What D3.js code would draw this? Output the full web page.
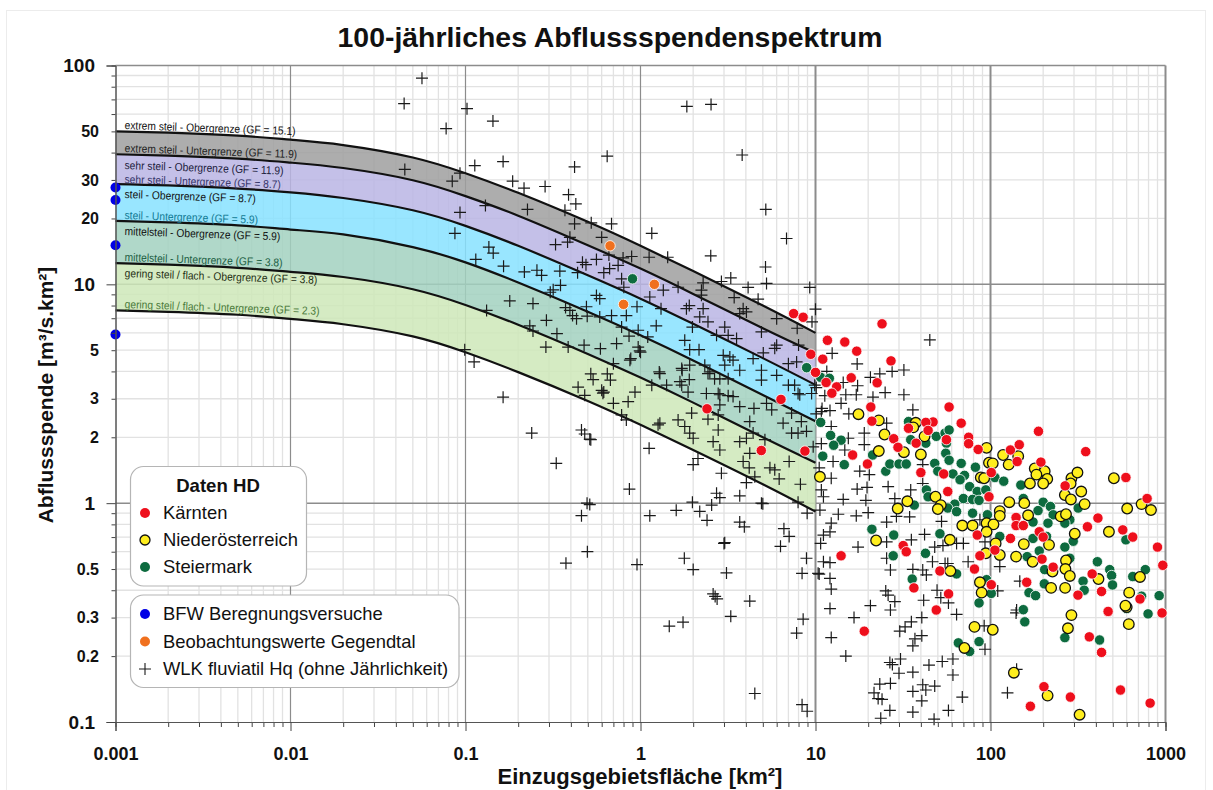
<!DOCTYPE html>
<html>
<head>
<meta charset="utf-8">
<title>100-jährliches Abflussspendenspektrum</title>
<script src="https://cdn.jsdelivr.net/npm/d3@7"></script>
<style>
  html, body {margin: 0; padding: 0; background: #fff;}
  svg {display: block; font-family: "Liberation Sans", Arial, sans-serif;}
</style>
</head>
<body>
<div id="chart"></div>
<script>
// tick labels
const xDecades = [0.001, 0.01, 0.1, 1, 10, 100, 1000];
const yDecades = [0.1, 1, 10, 100];
const yMinorLabels = [0.2, 0.3, 0.5, 2, 3, 5, 20, 30, 50];
const mantissas = [2, 3, 4, 5, 6, 7, 8, 9];

// bands: Einzugsgebietsflaeche [km2] and the six GF curves
const curveArea = [0.001, 0.002, 0.005, 0.01, 0.02, 0.05, 0.1, 0.2, 0.5, 1, 2, 5, 10];
const gf151 = [50, 49.3, 47.8, 45.8, 43.3, 38, 32.2, 26.2, 19.3, 15, 11.5, 8, 6];
const gf119 = [39.3, 38.7, 37.5, 36, 34, 29.9, 25.3, 20.6, 15.1, 11.8, 9.04, 6.3, 4.85];
const gf87 = [28.7, 28.3, 27.4, 26.3, 24.8, 21.8, 18.5, 15, 11, 8.6, 6.6, 4.6, 3.47];
const gf59 = [19.5, 19.2, 18.6, 17.8, 16.9, 14.8, 12.6, 10.2, 7.5, 5.85, 4.49, 3.12, 2.37];
const gf38 = [12.5, 12.3, 11.9, 11.4, 10.8, 9.5, 8.05, 6.54, 4.81, 3.75, 2.88, 2, 1.53];
const gf23 = [7.6, 7.49, 7.26, 6.95, 6.57, 5.78, 4.89, 3.97, 2.93, 2.28, 1.75, 1.22, 0.915];

const bfw = [[0.001, 27.7], [0.001, 24.3], [0.001, 15.1], [0.001, 5.9]];
const gegendtal = [[0.67, 15], [0.8, 8.1], [1.2, 10]];

const kaernten = [[2.4, 2.7], [4.9, 1.74], [8.7, 1.73], [6.35, 2.98], [7.5, 7.35],
  [8.5, 7.07], [9.4, 4.79], [10, 3.96], [24, 6.6], [11.7, 5.55], [14.7, 5.45],
  [17.2, 4.95], [11, 4.55], [27, 4.47], [16, 3.74], [22.5, 3.55], [11.5, 3.56],
  [13.2, 3.4], [12.4, 3.18], [20.7, 2.75], [21, 2.37], [16.3, 1.66], [19.8, 1.51],
  [58, 2.75], [47, 2.35], [42.7, 2.34], [44, 2.15], [34, 2.2], [28, 1.97],
  [29.6, 1.8], [37.6, 1.88], [56, 1.95], [68, 2.32], [75, 2.0], [75, 1.87],
  [85, 1.76], [40, 1.38], [54, 1.36], [57, 1.13], [101, 1.38], [98, 1.07],
  [188, 2.13], [130, 1.75], [146, 1.85], [142, 1.55], [194, 1.54], [350, 1.72],
  [267, 1.2], [594, 1.31], [785, 1.05], [140, 0.86], [411, 0.855], [140, 0.79],
  [154, 0.79], [190, 0.74], [200, 0.7], [358, 0.78], [570, 0.755], [650, 0.7],
  [900, 0.63], [965, 0.52], [84, 0.715], [130, 0.69], [106, 0.61], [87, 0.575],
  [31.7, 0.64], [33, 0.6], [14, 0.575], [51.4, 0.49], [81, 0.5], [197, 0.555],
  [228, 0.51], [36.5, 0.41], [57.6, 0.385], [101, 0.424], [161, 0.435], [49, 0.325],
  [19, 0.26], [381, 0.475], [316, 0.38], [431, 0.395], [470, 0.32], [715, 0.365],
  [955, 0.315], [367, 0.245], [431, 0.208], [202, 0.145], [169, 0.118], [286, 0.13],
  [553, 0.14], [817, 0.122]];

const niederoesterreich = [[17.6, 2.55], [23, 2.39], [24.8, 2.06], [23, 1.73],
  [10.6, 1.32], [37.4, 2.33], [36.2, 2.22], [42, 2.02], [32, 1.71], [40, 1.67],
  [95, 1.79], [118, 1.66], [144, 1.64], [127, 1.5], [98, 1.53], [103, 1.52],
  [88, 1.31], [92, 1.3], [179, 1.44], [204, 1.4], [183, 1.35], [211, 1.29],
  [200, 1.23], [168, 1.23], [290, 1.3], [314, 1.38], [287, 1.23], [266, 1.09],
  [330, 1.13], [288, 1.04], [345, 0.99], [507, 1.3], [604, 0.945], [730, 0.99],
  [826, 0.93], [128, 1.01], [156, 1.0], [164, 0.88], [252, 0.87], [270, 0.89],
  [113, 0.92], [113, 0.875], [48.5, 1.07], [52, 0.98], [50, 0.94], [33.5, 1.02],
  [29.5, 0.945], [58.6, 0.68], [22.2, 0.675], [69, 0.79], [79, 0.79], [95, 0.81],
  [104, 0.8], [95, 0.74], [107, 0.655], [94, 0.59], [113, 0.58], [140, 0.57],
  [174, 0.54], [155, 0.65], [216, 0.645], [303, 0.725], [475, 0.74], [270, 0.547],
  [268, 0.5], [284, 0.465], [226, 0.487], [414, 0.45], [222, 0.41], [267, 0.41],
  [715, 0.46], [620, 0.39], [600, 0.335], [590, 0.34], [617, 0.28], [290, 0.308],
  [277, 0.268], [59, 0.49], [87, 0.435], [89, 0.39], [81, 0.272], [103, 0.264],
  [71, 0.218], [136, 0.168], [212, 0.132], [323, 0.108]];

const steiermark = [[0.9, 10.6], [8.9, 4.16], [10.7, 3.76], [12, 3.72], [10.7, 2.34],
  [12.2, 2.04], [14, 1.94], [12.7, 1.84], [11, 1.64], [14.6, 1.5], [21.2, 1.66],
  [25.2, 1.4], [26.6, 1.51], [30, 1.51], [33, 1.51], [34, 2.36], [35, 1.95],
  [42.7, 1.88], [49, 2.02], [55, 2.09], [58, 2.16], [56, 1.88], [55.5, 1.69],
  [58, 1.57], [48, 1.52], [50, 1.4], [68, 1.52], [82, 1.46], [71, 1.34], [61, 1.36],
  [67, 1.28], [76, 1.19], [84, 1.13], [94, 1.15], [106, 1.31], [119, 1.26],
  [149, 1.21], [43, 1.15], [44, 1.07], [36.7, 0.98], [70, 1.05], [79, 1.04],
  [86, 1.03], [62.5, 0.99], [57, 0.95], [64, 0.915], [79, 0.9], [96, 0.885],
  [154, 1.05], [200, 1.01], [220, 0.965], [187, 0.925], [228, 0.885], [317, 0.95],
  [284, 0.84], [175, 0.82], [213, 0.81], [266, 0.81], [21, 0.76], [28, 0.715],
  [27.8, 0.575], [51.4, 0.725], [42.5, 0.59], [35.7, 0.45], [64, 0.475], [95, 0.447],
  [101, 0.387], [86, 0.35], [65.5, 0.23], [76, 0.21], [86, 0.233], [113, 0.705],
  [175, 0.69], [209, 0.705], [297, 0.67], [266, 0.63], [190, 0.605], [162, 0.57],
  [204, 0.497], [284, 0.56], [203, 0.428], [166, 0.39], [181, 0.378], [338, 0.44],
  [343, 0.4], [408, 0.54], [480, 0.497], [492, 0.467], [498, 0.423], [594, 0.68],
  [650, 0.462], [767, 0.497], [730, 0.376], [920, 0.378], [795, 0.312], [154, 0.326],
  [157, 0.287], [266, 0.243], [420, 0.237], [600, 0.33]];

const wlk = [[0.0564, 87.5], [0.0446, 67], [0.0775, 51.5], [0.102, 63.5], [0.1435, 55.7],
  [0.113, 34.9], [0.164, 36.4], [0.045, 33.5], [0.093, 32.2], [0.084, 29.6],
  [0.186, 29.6], [0.216, 27.5], [0.285, 28], [0.388, 25.7], [0.42, 34.4], [0.645, 38.5],
  [0.427, 23.3], [0.093, 21.3], [0.13, 22.9], [0.226, 22], [0.37, 21.8], [0.42, 18.9],
  [0.523, 19.1], [0.683, 18.9], [1.16, 17.1], [0.395, 16.4], [0.6, 16.4], [0.327, 15.2],
  [0.383, 15.6], [0.087, 17.1], [0.136, 14.8], [0.144, 13.9], [0.1145, 13], [0.165, 12.1],
  [0.217, 11.4], [0.256, 11.6], [0.272, 11], [0.346, 11.5], [0.437, 11.3], [0.466, 12.6],
  [0.488, 12.3], [0.56, 13], [0.617, 11.3], [0.666, 11.8], [0.66, 13.6], [0.745, 12.2],
  [0.78, 10.6], [0.803, 9.7], [0.795, 13.2], [0.89, 13.4], [1.12, 13.3], [1.43, 13.3],
  [2.52, 13.5], [1.84, 65], [2.53, 66.4], [3.81, 39], [5.2, 22], [6.83, 16.2], [5.18, 12],
  [5.25, 10.1], [3.28, 10.7], [2.9, 10.3], [2.28, 10.15], [1.64, 9.7], [1.35, 9.4],
  [4.12, 9.68], [9.27, 9.68], [2.23, 9.4], [2.23, 8.92], [3.43, 8.7], [4.7, 8.55],
  [3.86, 7.74], [4.03, 7.48], [3.69, 7.35], [6, 6.97], [9.55, 6.74],
  [7.86, 6.3], [0.317, 9.44], [0.349, 9.9], [0.305, 9.2], [0.179, 8.4], [0.243, 8.17],
  [0.132, 7.6], [0.373, 7.83], [0.395, 7.6], [0.409, 7.2], [0.431, 6.97], [0.491, 7.9],
  [0.56, 8.9], [0.585, 8.6], [0.496, 7.15], [0.585, 7.1], [0.683, 7.2], [0.83, 7.2],
  [0.955, 7.9], [1.31, 7.74], [1.13, 8.75], [1.83, 7.74], [1.9, 8.0], [2.18, 7.1],
  [2.43, 6.74], [2.28, 7.74], [1.23, 6.46], [0.97, 6.17], [0.78, 6.38], [0.86, 5.8],
  [1.1, 5.75], [0.97, 5.17], [0.99, 4.96], [1.98, 6.38], [3.03, 6.38], [2.72, 5.85],
  [3.17, 5.85], [3.54, 5.65], [1.79, 5.55], [4.91, 6.06], [6, 5.27], [5.85, 5.1],
  [5.03, 4.86], [7, 4.34], [7.8, 4.42], [3.24, 4.66], [2.97, 4.74], [4.4, 4.58],
  [1.91, 5.03], [2.16, 5.03], [3.38, 4.5], [3.69, 4.05], [3.03, 4.27], [4.91, 4.05],
  [4.91, 3.65], [6, 3.84], [2.33, 4.27], [2.49, 3.98], [1.72, 4.13], [1.29, 3.91],
  [1.68, 3.59], [1.91, 4.27], [1.9, 3.67], [1.16, 3.46], [0.88, 4.58], [0.7, 4.34],
  [0.73, 5.36], [0.59, 5.08], [0.476, 5.27], [0.386, 5.17], [0.288, 5.17], [0.333, 5.95],
  [0.29, 6.85], [0.233, 6.46], [0.243, 6.12], [0.099, 5.03], [0.112, 4.42], [0.52, 3.9],
  [0.646, 3.9], [0.673, 3.65], [0.536, 3.67], [0.44, 3.39], [0.6, 3.28], [0.48, 3.11],
  [0.93, 3.22], [0.164, 3.05], [1.41, 3.46], [1.72, 3.46], [2.38, 3.17], [2.78, 3.17],
  [3.17, 3.1], [7.6, 3.46], [7, 3.46], [7.95, 3.17], [0.239, 2.09], [0.33, 1.52],
  [0.46, 2.16], [0.48, 2.07], [0.513, 1.96], [0.52, 1.95], [0.864, 1.16], [0.495, 1],
  [0.513, 0.985], [0.46, 0.877], [0.497, 0.6], [0.375, 0.532], [0.955, 0.524],
  [1.13, 0.877], [1.12, 1.78], [0.83, 2.4], [0.7, 2.86], [0.78, 2.53], [0.85, 2.91],
  [1.29, 2.32], [1.26, 2.28], [1.64, 2.4], [1.79, 2.24], [1.91, 2.09], [2, 1.98],
  [1.96, 2.58], [2.43, 2.42], [2.78, 2.53], [2.84, 2.81], [2.78, 2.16], [2.6, 1.91],
  [2.84, 1.75], [2, 1.5], [2.13, 1.6], [2.9, 1.37], [3.69, 1.91], [4.03, 1.98],
  [4.4, 2.09], [4.21, 1.69], [3.86, 1.55], [4.18, 1.45], [4.5, 1.32], [4.03, 1.24],
  [5.49, 1.45], [5.85, 1.42], [6.2, 1.29], [7.07, 1.55], [8.2, 1.22], [3.69, 1.08],
  [2.72, 1.11], [2.84, 1.06], [2.55, 0.98], [1.98, 1.01], [2.18, 0.917], [1.6, 0.927],
  [2.4, 0.835], [3.69, 0.82], [3.92, 0.78], [4.91, 1], [5, 0.995], [7.95, 1.01],
  [8.96, 0.9], [6.6, 0.765], [7.07, 0.705], [6.31, 0.635], [3.03, 0.66], [3, 0.655],
  [1.78, 0.56], [2, 0.497], [3.1, 0.48], [8.88, 0.56], [8.38, 0.478], [10.35, 0.478],
  [4.21, 0.357], [2.6, 0.385], [2.74, 0.365], [2.67, 0.375], [3.28, 0.304], [1.75, 0.286],
  [1.46, 0.274], [8.5, 0.295], [7.8, 0.255], [4.5, 0.135], [8.38, 0.12], [8.96, 0.112],
  [0.61, 3.18], [2.84, 3.13], [3.38, 3.07], [3.69, 2.76], [4.45, 2.71], [4.21, 2.36],
  [5.25, 2.86], [5.62, 2.67], [7.3, 2.58], [6.53, 2.32], [7.3, 2.09], [7.95, 2.09],
  [8.88, 2.13], [8.3, 2.36], [9.7, 1.81], [5.14, 1.95], [8.13, 3.13],
  [0.87, 4.5], [1, 4.9], [1.28, 3.98], [1.73, 4.05], [2.43, 3.91], [2.65, 3.7], [2.84, 3.7],
  [3.17, 3.7], [9.9, 3.46], [9.5, 3.17], [0.617, 3.22], [1.87, 3.22],
  [10, 7.7], [8, 5.28], [12.45, 4.84], [17.3, 4.33], [11.6, 4], [23.3, 3.9],
  [27.4, 4], [32, 4.06], [20.6, 3.76], [14.4, 3.56], [17.4, 3.44], [10.1, 3.37],
  [14.9, 3.13], [17.1, 3.13], [25, 3.2], [32, 3.13], [21.3, 3.05], [11.3, 3.1], [14, 2.86],
  [10.9, 2.71], [12.1, 2.65], [10.1, 2.56], [10.8, 2.62], [15.5, 2.56], [36, 2.67],
  [45, 5.57], [25.5, 2.32], [12.3, 2.24], [19, 2.09], [15.4, 1.98], [19, 1.85], [10.8, 1.87],
  [14.7, 1.75], [12.6, 1.55], [10.5, 1.45], [17.9, 1.4], [20.3, 1.35], [12.3, 1.3],
  [17.3, 1.16], [19.7, 1.18], [26, 1.19], [41, 1.23], [35, 1.15], [28.4, 1.05], [10.8, 1.15],
  [11.1, 1.07], [14.4, 1.04], [19.4, 1.03], [41, 1.5], [10.6, 0.93], [13.5, 0.89],
  [17.1, 0.875], [20, 0.905], [29, 0.87], [34.5, 0.865], [12.3, 0.81], [25.5, 0.82],
  [52.5, 0.825], [87, 0.84], [12.1, 0.74], [11.1, 0.715], [10.7, 0.655], [17.5, 0.63],
  [11.1, 0.54], [12.1, 0.535], [10.5, 0.474], [12.1, 0.453], [12.3, 0.405], [12.1, 0.33],
  [12.3, 0.243], [14.9, 0.2], [16.6, 0.3], [20.6, 0.34], [25.2, 0.397], [26, 0.38],
  [28.4, 0.355], [26.8, 0.325], [25.5, 0.665], [26.8, 0.495], [25.5, 0.56], [35.3, 0.68],
  [42, 0.72], [36, 0.498], [41, 0.495], [43, 0.47], [48, 0.63], [53.5, 0.64], [46.6, 0.54],
  [55, 0.53], [57, 0.53], [74.5, 0.54], [64, 0.655], [70, 0.655], [93, 0.665], [113, 0.513],
  [147, 0.44], [110, 0.397], [49.5, 0.4], [52, 0.37], [41.5, 0.36], [57.5, 0.35], [64, 0.31],
  [40.5, 0.3], [35.3, 0.287], [32.5, 0.272], [30.3, 0.26], [40.5, 0.248], [37, 0.24],
  [36, 0.223], [92, 0.275], [93, 0.215], [141, 0.325], [140, 0.315], [30.6, 0.194],
  [26.6, 0.187], [27.5, 0.183], [30, 0.167], [36, 0.169], [44.5, 0.182], [53, 0.189],
  [61, 0.194], [61, 0.164], [48, 0.146], [41, 0.148], [36, 0.138], [42.7, 0.14], [23.3, 0.149],
  [26.8, 0.15], [21.6, 0.136], [22.8, 0.128], [24, 0.127], [40.5, 0.125], [69, 0.13],
  [125, 0.136], [141, 0.174], [26.6, 0.113], [36, 0.111], [57.5, 0.113], [23.6, 0.104],
  [47.6, 0.103]];

const width = 1213;
const height = 790;
const cross = 'M-6,0H6M0,-6V6';

const x = d3.scaleLog().domain([0.001, 1000]).range([115.5, 1165.5]);
const y = d3.scaleLog().domain([0.1, 100]).range([722, 65.5]);

const svg = d3.select('#chart')
    .append('svg')
    .attr('width', width)
    .attr('height', height);

svg.append('rect')
    .attr('x', 6.5)
    .attr('y', 10.5)
    .attr('width', 1199)
    .attr('height', 790)
    .attr('fill', '#fff')
    .attr('stroke', '#ececec');

// 2..9 inside every decade, for the fine grid and the short ticks
const xMinor = xDecades.slice(0, -1).flatMap((d) => mantissas.map((m) => d * m));
const yMinor = yDecades.slice(0, -1).flatMap((d) => mantissas.map((m) => d * m));

const grid = svg.append('g');
const vLines = (values, color, w) => grid.selectAll(null)
    .data(values)
    .enter().append('line')
    .attr('x1', (d) => x(d)).attr('x2', (d) => x(d))
    .attr('y1', y(100)).attr('y2', y(0.1))
    .attr('stroke', color)
    .attr('stroke-width', w);
const hLines = (values, color, w) => grid.selectAll(null)
    .data(values)
    .enter().append('line')
    .attr('y1', (d) => y(d)).attr('y2', (d) => y(d))
    .attr('x1', x(0.001)).attr('x2', x(1000))
    .attr('stroke', color)
    .attr('stroke-width', w);
vLines(xMinor, '#e2e2e2', 1.3);
hLines(yMinor, '#e2e2e2', 1.3);
vLines([0.01, 0.1, 1], '#8c8c8c', 1.2);
vLines([10, 100, 1000], '#8c8c8c', 2);
hLines([1, 10, 100], '#8c8c8c', 1.5);

// bands between neighbouring curves
const curves = [gf151, gf119, gf87, gf59, gf38, gf23];
const bandColors = ['#9f9f9f', '#bab5e4', '#87e2ff', '#a2d1bf', '#cee7b8'];
const area = d3.area()
    .x((d) => x(d[0]))
    .y0((d) => y(d[1]))
    .y1((d) => y(d[2]))
    .curve(d3.curveNatural);
const line = d3.line()
    .x((d, i) => x(curveArea[i]))
    .y((d) => y(d))
    .curve(d3.curveNatural);

svg.append('g').selectAll('path')
    .data(bandColors)
    .enter().append('path')
    .attr('d', (c, i) => area(curveArea.map((a, j) =>
      [a, curves[i][j], curves[i + 1][j]])))
    .attr('fill', (c) => c)
    .attr('fill-opacity', 0.85);

svg.append('g').selectAll('path')
    .data(curves)
    .enter().append('path')
    .attr('d', line)
    .attr('fill', 'none')
    .attr('stroke', '#111')
    .attr('stroke-width', 2.2);

// curve labels
const curveLabels = [
  'extrem steil - Obergrenze (GF = 15.1)',
  'extrem steil - Untergrenze (GF = 11.9)',
  'sehr steil - Obergrenze (GF = 11.9)',
  'sehr steil - Untergrenze (GF = 8.7)',
  'steil - Obergrenze (GF = 8.7)',
  'steil - Untergrenze (GF = 5.9)',
  'mittelsteil - Obergrenze (GF = 5.9)',
  'mittelsteil - Untergrenze (GF = 3.8)',
  'gering steil / flach - Obergrenze (GF = 3.8)',
  'gering steil / flach - Untergrenze (GF = 2.3)',
];
const labelBase = [129, 152, 169, 183, 198, 219, 235, 261, 277, 308];
const labelInk = ['#111', '#222', '#1c1c3c', '#35356a', '#111', '#127a94',
  '#111', '#1d5f44', '#1f2f14', '#4a7a3a'];
svg.append('g').selectAll('text')
    .data(curveLabels)
    .enter().append('text')
    .attr('transform', (d, i) => `translate(124.5, ${labelBase[i]}) rotate(2) scale(0.9, 1)`)
    .attr('font-size', 11.4)
    .attr('fill', (d, i) => labelInk[i])
    .text((d) => d);

// crosses first, the circles sit on top of them
svg.append('g').selectAll('path')
    .data(wlk)
    .enter().append('path')
    .attr('d', cross)
    .attr('transform', (d) => `translate(${x(d[0])}, ${y(d[1])})`)
    .attr('fill', 'none')
    .attr('stroke', '#1a1a1a')
    .attr('stroke-width', 1.2);

const dots = (data, fill, stroke, r, w) => svg.append('g').selectAll('circle')
    .data(data)
    .enter().append('circle')
    .attr('cx', (d) => x(d[0]))
    .attr('cy', (d) => y(d[1]))
    .attr('r', r)
    .attr('fill', fill)
    .attr('stroke', stroke)
    .attr('stroke-width', w);

dots(steiermark, '#0d6b3f', '#fff', 5.2, 0.8);
dots(niederoesterreich, '#ffee1e', '#111', 5.3, 1.3);
dots(kaernten, '#ee0f1c', '#fff', 5.2, 0.8);
dots(gegendtal, '#f0701e', '#fff', 5.2, 0.8);
dots(bfw, '#0000e6', 'none', 5, 0);

// axes
const bottom = svg.append('g').attr('transform', `translate(0, ${y(0.1)})`);
const left = svg.append('g').attr('transform', `translate(${x(0.001)}, 0)`);
bottom.call(d3.axisBottom(x).tickValues(xMinor).tickSize(5).tickFormat(''));
bottom.append('g').call(d3.axisBottom(x).tickValues(xDecades).tickSize(9)
    .tickPadding(16).tickFormat((d) => d)).attr('class', 'big');
left.call(d3.axisLeft(y).tickValues(yMinor).tickSize(4).tickFormat(''));
left.append('g').call(d3.axisLeft(y).tickValues(yDecades).tickSize(9)
    .tickPadding(11.5).tickFormat((d) => d)).attr('class', 'big left');
left.append('g').call(d3.axisLeft(y).tickValues(yMinorLabels).tickSize(0)
    .tickPadding(16.5).tickFormat((d) => d)).attr('class', 'mid');
svg.selectAll('.domain').attr('stroke', '#555');
svg.selectAll('.tick line').attr('stroke', '#444');
svg.selectAll('.mid .domain').attr('stroke', 'none');
svg.selectAll('.big text')
    .attr('font-family', '"Liberation Sans", Arial, sans-serif')
    .attr('font-size', 18)
    .attr('font-weight', 'bold')
    .attr('fill', '#111');
svg.selectAll('.left text').attr('font-size', 19);
svg.selectAll('.mid text')
    .attr('font-family', '"Liberation Sans", Arial, sans-serif')
    .attr('font-size', 16)
    .attr('font-weight', 'bold')
    .attr('fill', '#111');

// titles
svg.append('text')
    .attr('x', 610)
    .attr('y', 47)
    .attr('text-anchor', 'middle')
    .attr('font-size', 28.4)
    .attr('font-weight', 'bold')
    .attr('fill', '#111')
    .text('100-jährliches Abflussspendenspektrum');
svg.append('text')
    .attr('x', 640)
    .attr('y', 784)
    .attr('text-anchor', 'middle')
    .attr('font-size', 22)
    .attr('font-weight', 'bold')
    .attr('fill', '#111')
    .text('Einzugsgebietsfläche [km²]');
svg.append('text')
    .attr('transform', 'translate(53, 395) rotate(-90)')
    .attr('text-anchor', 'middle')
    .attr('font-size', 21)
    .attr('font-weight', 'bold')
    .attr('fill', '#111')
    .text('Abflussspende [m³/s.km²]');

// legends
const legendBox = (bx, by, w, h) => svg.append('rect')
    .attr('x', bx).attr('y', by)
    .attr('width', w).attr('height', h)
    .attr('rx', 13)
    .attr('fill', '#fff')
    .attr('stroke', '#b5b5b5')
    .attr('stroke-width', 1.2);
legendBox(130.5, 466.5, 176, 119.5);
legendBox(130.5, 595, 328.5, 92.5);

svg.append('text')
    .attr('x', 218)
    .attr('y', 492)
    .attr('text-anchor', 'middle')
    .attr('font-size', 18.6)
    .attr('font-weight', 'bold')
    .attr('fill', '#111')
    .text('Daten HD');

const legendNames = ['Kärnten', 'Niederösterreich', 'Steiermark',
  'BFW Beregnungsversuche', 'Beobachtungswerte Gegendtal',
  'WLK fluviatil Hq (ohne Jährlichkeit)'];
const legendRows = [513, 540, 567, 614, 641.5, 669];
const legendFill = ['#ee0f1c', '#ffee1e', '#0d6b3f', '#0000e6', '#f0701e', null];
const legendItems = svg.append('g').selectAll('g')
    .data(legendNames)
    .enter().append('g')
    .attr('transform', (d, i) => `translate(145, ${legendRows[i]})`);
legendItems.append('text')
    .attr('x', 18)
    .attr('y', 6)
    .attr('font-size', 18.4)
    .attr('fill', '#111')
    .text((d) => d);
legendItems.filter((d, i) => legendFill[i])
    .append('circle')
    .attr('r', 5)
    .attr('fill', (d) => legendFill[legendNames.indexOf(d)])
    .attr('stroke', (d) => d === 'Niederösterreich' ? '#111' : 'none')
    .attr('stroke-width', 1.3);
legendItems.filter((d, i) => !legendFill[i])
    .append('path')
    .attr('d', cross)
    .attr('fill', 'none')
    .attr('stroke', '#1a1a1a')
    .attr('stroke-width', 1.1);
</script>
</body>
</html>
